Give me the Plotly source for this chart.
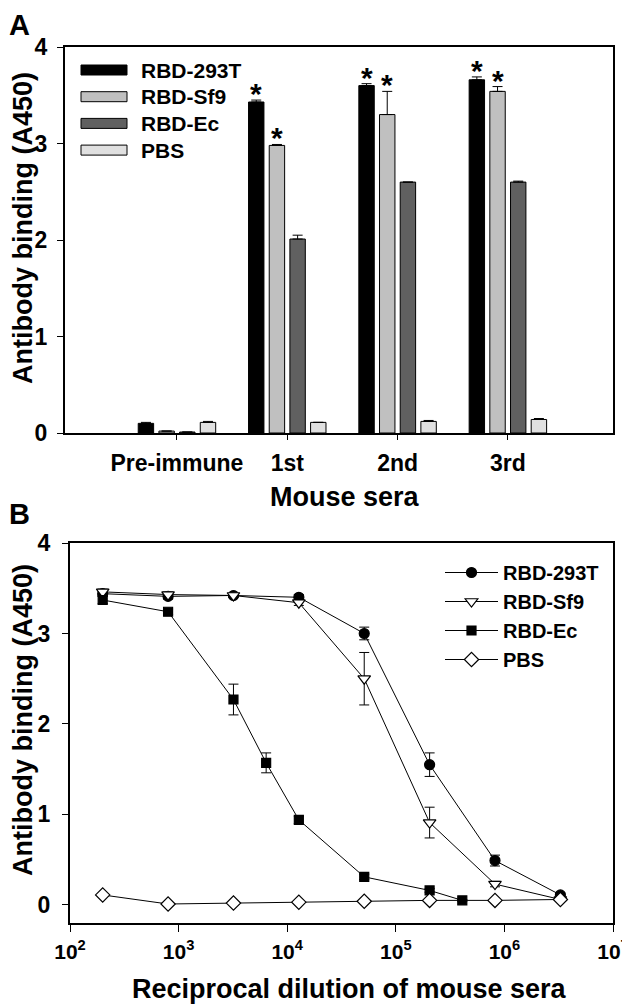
import plotly.graph_objects as go

# ---- Panel A data (bar chart) ----
sera = ["Pre-immune", "1st", "2nd", "3rd"]
groups = ["RBD-293T", "RBD-Sf9", "RBD-Ec", "PBS"]
bar_293t = [0.10, 3.43, 3.60, 3.66]
bar_sf9 = [0.02, 2.98, 3.30, 3.54]
bar_ec = [0.01, 2.01, 2.60, 2.60]
bar_pbs = [0.11, 0.11, 0.12, 0.14]
err_293t = [0.01, 0.02, 0.02, 0.03]
err_sf9 = [0.00, 0.01, 0.24, 0.05]
err_ec = [0.00, 0.04, 0.00, 0.01]
err_pbs = [0.01, 0.00, 0.01, 0.01]
# sera indices whose bars carry an asterisk
star_293t = [1, 2, 3]
star_sf9 = [1, 2, 3]

# ---- Panel B data (titration curves) ----
dil_main = [200, 800, 3200, 12800, 51200, 204800, 819200, 3276800]
dil_ec = [200, 800, 3200, 6400, 12800, 51200, 204800, 409600]
y_293t = [3.44, 3.41, 3.42, 3.40, 3.00, 1.55, 0.49, 0.11]
e_293t = [0.03, 0.03, 0.02, 0.03, 0.07, 0.13, 0.06, 0.02]
y_sf9 = [3.46, 3.43, 3.42, 3.34, 2.50, 0.91, 0.23, 0.06]
e_sf9 = [0.03, 0.03, 0.02, 0.03, 0.29, 0.17, 0.03, 0.02]
y_ec = [3.37, 3.24, 2.27, 1.57, 0.94, 0.31, 0.16, 0.05]
e_ec = [0.04, 0.03, 0.17, 0.11, 0.04, 0.03, 0.02, 0.01]
y_pbs = [0.11, 0.01, 0.02, 0.03, 0.04, 0.05, 0.05, 0.06]
e_pbs = [0.01, 0.01, 0.01, 0.01, 0.01, 0.01, 0.01, 0.01]
log_ticks = [1e2, 1e3, 1e4, 1e5, 1e6, 1e7]
log_text = ["10<sup>2</sup>", "10<sup>3</sup>", "10<sup>4</sup>",
            "10<sup>5</sup>", "10<sup>6</sup>", "10<sup>7</sup>"]

FONT = "Liberation Sans, Arial, sans-serif"
# the page body has an 8px margin, so the figure is a bit smaller
# than the window and page pixels are shifted by that margin
PAD = 8
W, H = 630 - PAD, 1008 - PAD


def px(x):
    return (x - PAD) / W


def py(y):
    return 1 - (y - PAD) / H


bar_colors = ["#000000", "#c0c0c0", "#606060", "#e0e0e0"]

fig = go.Figure()

# bars
bar_vals = [bar_293t, bar_sf9, bar_ec, bar_pbs]
bar_errs = [err_293t, err_sf9, err_ec, err_pbs]
for name, vals, errs, col in zip(groups, bar_vals, bar_errs, bar_colors):
    fig.add_trace(go.Bar(
        x=list(range(len(sera))), y=vals, name=name,
        marker=dict(color=col, line=dict(color="black", width=1)),
        error_y=dict(type="data", symmetric=False, array=errs,
                     arrayminus=[0] * len(errs), color="black",
                     thickness=1, width=5),
        showlegend=False, xaxis="x", yaxis="y",
    ))

# curves
curves = [
    ("RBD-293T", dil_main, y_293t, e_293t, "circle", "black", 10),
    ("RBD-Sf9", dil_main, y_sf9, e_sf9, "triangle-down", "white", 11),
    ("RBD-Ec", dil_ec, y_ec, e_ec, "square", "black", 9),
    ("PBS", dil_main, y_pbs, e_pbs, "diamond", "white", 11),
]
for name, xs, ys, es, sym, fill, size in curves:
    fig.add_trace(go.Scatter(
        x=xs, y=ys, name=name, mode="lines+markers",
        line=dict(color="black", width=1),
        marker=dict(symbol=sym, size=size, color=fill,
                    line=dict(color="black", width=1.2)),
        error_y=dict(type="data", array=es, color="black",
                     thickness=1, width=5),
        xaxis="x2", yaxis="y2",
    ))

bargap, groupgap = 0.25, 0.255
pitch = (1 - bargap) / len(groups)

ann = []
# asterisks above significant bars
for k, (vals, errs, idx) in enumerate([(bar_293t, err_293t, star_293t),
                                       (bar_sf9, err_sf9, star_sf9)]):
    for i in idx:
        ann.append(dict(x=i + (k - 1.5) * pitch, y=vals[i] + errs[i],
                        xref="x", yref="y", text="*", showarrow=False,
                        yanchor="bottom", yshift=-12,
                        font=dict(family=FONT, size=30, color="black",
                                  weight="bold")))

# custom legend for panel A (wide swatches)
shapes = []
for r, (name, col) in enumerate(zip(groups, bar_colors)):
    yc = 70 + r * 26.7
    shapes.append(dict(type="rect", xref="paper", yref="paper",
                       x0=px(81), x1=px(127),
                       y0=py(yc + 5), y1=py(yc - 5),
                       fillcolor=col, line=dict(color="black", width=1)))
    ann.append(dict(x=px(139), y=py(yc), xref="paper", yref="paper",
                    text=name, showarrow=False, xanchor="left",
                    yanchor="middle",
                    font=dict(family=FONT, size=21, color="black",
                              weight="bold")))

title_font = dict(family=FONT, size=27, color="black", weight="bold")
ytitle_font = dict(family=FONT, size=27, color="black", weight="bold")
letter_font = dict(family=FONT, size=29, color="black", weight="bold")
labels = [
    dict(x=0, y=1, text="A", font=letter_font, xanchor="left",
         yanchor="top"),
    dict(x=0, y=py(514), text="B", font=letter_font, xanchor="left"),
    dict(x=px(23), y=py(228), text="Antibody binding (A450)",
         textangle=-90, font=ytitle_font),
    dict(x=px(23), y=py(720), text="Antibody binding (A450)",
         textangle=-90, font=ytitle_font),
    dict(x=px(345), y=py(497), text="Mouse sera", font=title_font),
    dict(x=px(350), y=py(989), text="Reciprocal dilution of mouse sera",
         font=title_font),
]
for a in labels:
    a.setdefault("xanchor", "center")
    a.setdefault("yanchor", "middle")
    a.update(xref="paper", yref="paper", showarrow=False, borderpad=0)
ann += labels

tick_font = dict(family=FONT, size=23, color="black", weight="bold")
axis_common = dict(showline=True, linecolor="black", linewidth=2,
                   mirror=True, ticks="outside", tickcolor="black",
                   tickwidth=1, showgrid=False, zeroline=False,
                   automargin=False, ticklabeloverflow="allow",
                   tickfont=tick_font)

fig.update_layout(
    width=W, height=H, margin=dict(l=0, r=0, t=0, b=0, autoexpand=False),
    paper_bgcolor="white", plot_bgcolor="white",
    barmode="group", bargap=bargap, bargroupgap=groupgap,
    xaxis=dict(domain=[px(65), px(613)], anchor="y",
               range=[-1.015, 3.953], tickvals=list(range(len(sera))),
               ticktext=sera, ticklen=5, ticklabelstandoff=3,
               **axis_common),
    yaxis=dict(domain=[py(433), py(47)], anchor="x",
               range=[0, 4], tickvals=[0, 1, 2, 3, 4], ticklen=6,
               ticklabelstandoff=5, **axis_common),
    xaxis2=dict(domain=[px(70), px(613)], anchor="y2", type="log",
                range=[2, 7], tickvals=log_ticks, ticktext=log_text,
                ticklen=7, ticklabelstandoff=2, **axis_common),
    yaxis2=dict(domain=[py(923), py(543)], anchor="x2",
                range=[-0.2, 4], tickvals=[0, 1, 2, 3, 4], ticklen=6,
                ticklabelstandoff=7, **axis_common),
    legend=dict(x=px(440), y=py(553), xanchor="left", yanchor="top",
                bgcolor="rgba(0,0,0,0)", itemwidth=53, tracegroupgap=0,
                font=dict(family=FONT, size=20, color="black",
                          weight="bold")),
    annotations=ann, shapes=shapes,
)
# slightly smaller decade labels so that 10^7 fits at the right edge
fig.update_xaxes(tickfont_size=21, selector=dict(type="log"))

fig.write_html("out.html")
